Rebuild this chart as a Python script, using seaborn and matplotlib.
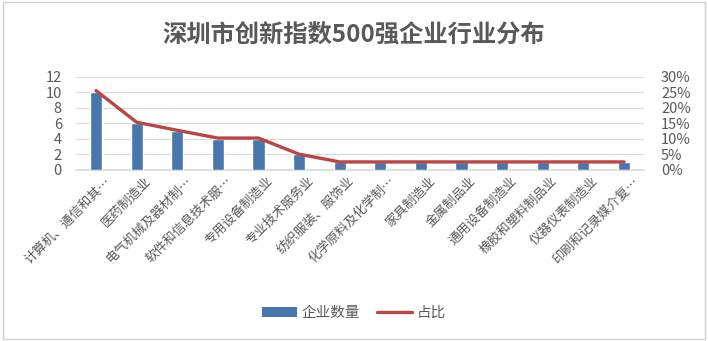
import numpy as np
import pandas as pd
import matplotlib
matplotlib.use("Agg")
import matplotlib.pyplot as plt
import matplotlib.transforms as mtransforms
from matplotlib.patches import Rectangle, Patch
from matplotlib.lines import Line2D
from matplotlib.ticker import PercentFormatter
import seaborn as sns

# Industries (labels as shown, truncated with an ellipsis)
industries = [
    "计算机、通信和其…", "医药制造业", "电气机械及器材制…", "软件和信息技术服…",
    "专用设备制造业", "专业技术服务业", "纺织服装、服饰业", "化学原料及化学制…",
    "家具制造业", "金属制品业", "通用设备制造业", "橡胶和塑料制品业",
    "仪器仪表制造业", "印刷和记录媒介复…",
]
company_counts = [10, 6, 5, 4, 4, 2, 1, 1, 1, 1, 1, 1, 1, 1]
share_pct = [25.6, 15.4, 12.8, 10.3, 10.3, 5.1, 2.6, 2.6, 2.6, 2.6, 2.6, 2.6, 2.6, 2.6]

left_ticks = [0, 2, 4, 6, 8, 10, 12]
right_ticks = [0, 5, 10, 15, 20, 25, 30]

bar_color = "#4A76AE"
line_color = "#BA4542"
text_color = "#595959"

sns.set_theme(style="white")
plt.rcParams["font.family"] = ["Noto Sans CJK SC", "DejaVu Sans"]

df = pd.DataFrame({"industry": industries, "count": company_counts,
                   "share": share_pct, "pos": np.arange(len(industries))})

fig = plt.figure(figsize=(7.08, 3.41), dpi=100)
ax = fig.add_axes([0.107, 0.5015, 0.803, 0.2727])

sns.barplot(data=df, x="industry", y="count", color=bar_color, width=0.3,
            saturation=1, ax=ax, zorder=3)
ax.set_ylim(0, 12)
ax.set_yticks(left_ticks)
ax.set_xlim(-0.5, len(industries) - 0.5)
ax.grid(axis="y", color="#D9D9D9", linewidth=0.8, zorder=0)
ax.set_xlabel("")
ax.set_ylabel("")
for s in ["top", "right", "left"]:
    ax.spines[s].set_visible(False)
ax.spines["bottom"].set_color("#D9D9D9")
ax.tick_params(axis="y", length=0, labelsize=10.5, labelcolor=text_color, pad=10)
ax.tick_params(axis="x", length=0, labelsize=9.3, labelcolor=text_color, pad=2)
# rotated category labels, nudged so their ends sit just right of each bar
shift = mtransforms.ScaledTranslation(8 / 100, -2 / 100, fig.dpi_scale_trans)
for lbl in ax.get_xticklabels():
    lbl.set_rotation(45)
    lbl.set_ha("right")
    lbl.set_rotation_mode("anchor")
    lbl.set_transform(lbl.get_transform() + shift)

ax2 = ax.twinx()
sns.lineplot(data=df, x="pos", y="share", color=line_color, linewidth=2.4,
             ax=ax2, zorder=4)
ax2.set_ylim(0, 30)
ax2.set_yticks(right_ticks)
ax2.yaxis.set_major_formatter(PercentFormatter(decimals=0))
ax2.set_ylabel("")
ax2.set_xlabel("")
for s in ["top", "right", "left", "bottom"]:
    ax2.spines[s].set_visible(False)
ax2.tick_params(axis="y", length=0, labelsize=10.5, labelcolor=text_color, pad=12)
ax.set_xlim(-0.5, len(industries) - 0.5)

fig.text(0.5, 0.895, "深圳市创新指数500强企业行业分布", ha="center", va="center",
         fontsize=17.5, fontweight="bold", color="#595959")

handles = [Patch(facecolor=bar_color, edgecolor="none"),
           Line2D([0], [0], color=line_color, linewidth=2.4)]
fig.legend(handles, ["企业数量", "占比"], loc="center", bbox_to_anchor=(0.5, 0.082),
           ncol=2, frameon=False, fontsize=10.5, labelcolor=text_color,
           handlelength=2.4, handleheight=0.6, columnspacing=1.2, handletextpad=0.3)

fig.patches.append(Rectangle((0.004, 0.006), 0.992, 0.988, transform=fig.transFigure,
                             fill=False, edgecolor="#D0D0D0", linewidth=1.0))

fig.savefig("out.png", dpi=100)
